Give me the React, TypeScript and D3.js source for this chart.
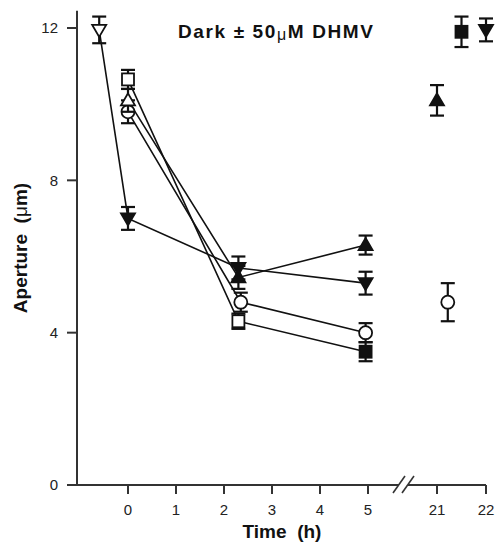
import React from 'react';
import {scaleLinear, line} from 'd3';

// aperture (um) over time (h); points after the axis break are not joined
const squareTime = [0, 2.3, 4.95, 21.5];
const squareMean = [10.65, 4.3, 3.5, 11.9];
const squareErr = [0.25, 0.2, 0.25, 0.4];
const squareFill = [false, false, true, true];

const circleTime = [0, 2.35, 4.95, 21.22];
const circleMean = [9.8, 4.8, 4.0, 4.8];
const circleErr = [0.3, 0.25, 0.25, 0.5];
const circleFill = [false, false, false, false];

const upTime = [0, 2.3, 4.95, 21.0];
const upMean = [10.1, 5.45, 6.3, 10.1];
const upErr = [0.3, 0.3, 0.25, 0.4];
const upFill = [false, true, true, true];

const downTime = [-0.6, 0, 2.3, 4.95, 22.0];
const downMean = [11.95, 7.0, 5.7, 5.3, 11.95];
const downErr = [0.35, 0.3, 0.3, 0.3, 0.3];
const downFill = [false, true, true, true, true];

const xTicksLeft = [0, 1, 2, 3, 4, 5];
const xTicksRight = [21, 22];
const yTicks = [0, 4, 8, 12];

const width = 495;
const height = 542;
const axisX = 77;
const axisY = 485;
const breakAt = 10;

const xLeft = scaleLinear().domain([0, 5]).range([128, 368]);
const xRight = scaleLinear().domain([21, 22]).range([437, 486]);
const x = (t: number) => (t < breakAt ? xLeft(t) : xRight(t));
const y = scaleLinear().domain([0, 12]).range([axisY, 28]);

const font = '"Liberation Sans", Arial, Helvetica, sans-serif';
const ink = '#111';

type Shape = 'square' | 'circle' | 'up' | 'down';

const series: {shape: Shape; time: number[]; mean: number[]; err: number[]; fill: boolean[]}[] = [
  {shape: 'square', time: squareTime, mean: squareMean, err: squareErr, fill: squareFill},
  {shape: 'circle', time: circleTime, mean: circleMean, err: circleErr, fill: circleFill},
  {shape: 'up', time: upTime, mean: upMean, err: upErr, fill: upFill},
  {shape: 'down', time: downTime, mean: downMean, err: downErr, fill: downFill},
];

function Marker({shape, cx, cy, filled}: {shape: Shape; cx: number; cy: number; filled: boolean}) {
  const common = {fill: filled ? ink : '#fff', stroke: ink, strokeWidth: 1.8};
  if (shape === 'square') {
    return <rect x={cx - 6} y={cy - 6} width={12} height={12} {...common} />;
  }
  if (shape === 'circle') {
    return <circle cx={cx} cy={cy} r={6.5} {...common} />;
  }
  if (shape === 'up') {
    return <path d={`M${cx},${cy - 7}L${cx + 7},${cy + 5}L${cx - 7},${cy + 5}Z`} {...common} />;
  }
  return <path d={`M${cx},${cy + 7}L${cx + 7},${cy - 5}L${cx - 7},${cy - 5}Z`} {...common} />;
}

export default function App() {
  const path = line<number[]>()
    .x((d) => x(d[0]))
    .y((d) => y(d[1]));

  return (
    <svg width={width} height={height} style={{position: 'absolute', left: 0, top: 0, background: '#fff'}}>
      {/* axes */}
      <g stroke="#333" strokeWidth={2} fill="none">
        <line x1={axisX} y1={y(12.45)} x2={axisX} y2={axisY} />
        <line x1={axisX} y1={axisY} x2={399} y2={axisY} />
        <line x1={408} y1={axisY} x2={xRight(22)} y2={axisY} />
        <line x1={393} y1={493} x2={405} y2={476} strokeWidth={1.6} />
        <line x1={402} y1={493} x2={414} y2={476} strokeWidth={1.6} />
        {yTicks.map((v) => (
          <line key={v} x1={axisX - 10} y1={y(v)} x2={axisX} y2={y(v)} />
        ))}
        {[...xTicksLeft, ...xTicksRight].map((t) => (
          <line key={t} x1={x(t)} y1={axisY} x2={x(t)} y2={axisY + 9} />
        ))}
      </g>
      <g fontFamily={font} fontSize={15} fill="#222">
        {yTicks.map((v) => (
          <text key={v} x={axisX - 19} y={y(v)} dy="0.35em" textAnchor="end">{v}</text>
        ))}
        {[...xTicksLeft, ...xTicksRight].map((t) => (
          <text key={t} x={x(t)} y={axisY + 30} textAnchor="middle">{t}</text>
        ))}
      </g>
      <text
        x={282}
        y={538}
        textAnchor="middle"
        fontFamily={font}
        fontWeight="bold"
        fontSize={19}
        fill={ink}
        style={{whiteSpace: 'pre'}}
      >
        Time  (h)
      </text>
      <text
        transform="translate(27,248) rotate(-90)"
        textAnchor="middle"
        fontFamily={font}
        fontWeight="bold"
        fontSize={19}
        fill={ink}
        style={{whiteSpace: 'pre'}}
      >
        Aperture  (<tspan fontWeight="normal">μ</tspan>m)
      </text>
      <text
        x={178}
        y={38}
        fontFamily={font}
        fontWeight="bold"
        fontSize={19}
        fill={ink}
        textLength={195}
        lengthAdjust="spacing"
      >
        Dark ± 50<tspan fontWeight="normal" fontSize={16} dy={2}>μ</tspan><tspan dy={-2}>M DHMV</tspan>
      </text>

      {/* connecting lines */}
      <g fill="none" stroke={ink} strokeWidth={1.6}>
        {series.map((s) => {
          const pts = s.time.map((t, i) => [t, s.mean[i]]).filter((d) => d[0] < breakAt);
          return <path key={s.shape} d={path(pts) ?? ''} />;
        })}
      </g>

      {/* error bars and markers */}
      {series.map((s) =>
        s.time.map((t, i) => {
          const cx = x(t);
          const top = y(s.mean[i] + s.err[i]);
          const bot = y(s.mean[i] - s.err[i]);
          return (
            <g key={`${s.shape}-${i}`}>
              <g stroke={ink} strokeWidth={2.2}>
                <line x1={cx} y1={top} x2={cx} y2={bot} />
                <line x1={cx - 7} y1={top} x2={cx + 7} y2={top} />
                <line x1={cx - 7} y1={bot} x2={cx + 7} y2={bot} />
              </g>
              <Marker shape={s.shape} cx={cx} cy={y(s.mean[i])} filled={s.fill[i]} />
            </g>
          );
        }),
      )}
    </svg>
  );
}
